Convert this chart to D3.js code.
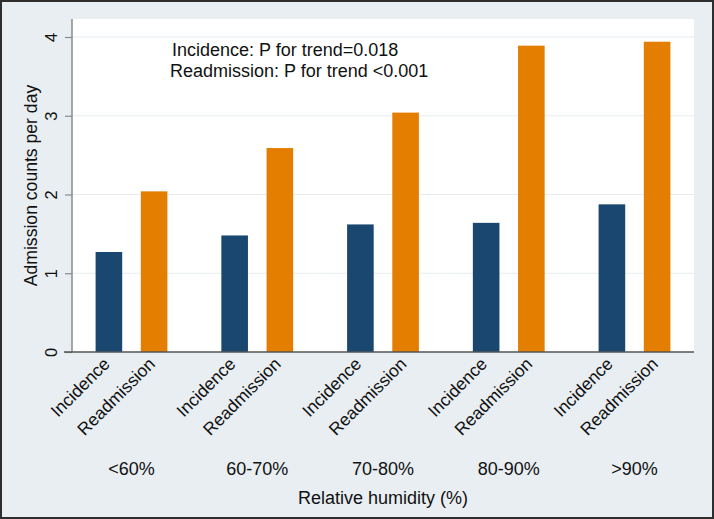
<!DOCTYPE html>
<html><head><meta charset="utf-8">
<script src="https://cdn.jsdelivr.net/npm/d3@7"></script>
<style>
html,body{margin:0;padding:0;background:#fff;}
svg text{font-family:"Liberation Sans",Arial,sans-serif;fill:#111;}
</style></head>
<body>
<svg id="chart" width="714" height="519"></svg>
<script>
const groups = ["<60%", "60-70%", "70-80%", "80-90%", ">90%"];
const seriesNames = ["Incidence", "Readmission"];
const incidence = [1.27, 1.48, 1.62, 1.64, 1.875];
const readmission = [2.04, 2.59, 3.04, 3.89, 3.94];
const yTicks = [0, 1, 2, 3, 4];
const annotations = ["Incidence: P for trend=0.018", "Readmission: P for trend <0.001"];
const yTitle = "Admission counts per day";
const xTitle = "Relative humidity (%)";
const colors = ["#1a476f", "#e37e00"];

const W = 714, H = 519;
const svg = d3.select("#chart");
svg.append("rect").attr("x",1).attr("y",1).attr("width",W-2).attr("height",H-2)
  .attr("fill","#e8eef1").attr("stroke","#2e2e2e").attr("stroke-width",2);

const plot = {l:72, r:694, t:19, b:352};
svg.append("rect").attr("x",plot.l).attr("y",plot.t).attr("width",plot.r-plot.l).attr("height",plot.b-plot.t).attr("fill","#fff");

const y = d3.scaleLinear().domain([0,4]).range([352, 37]);
const gx = d3.scalePoint().domain(groups).range([131.5, 634.5]);
const sx = d3.scalePoint().domain(seriesNames).range([-22.6, 22.6]);
const bw = 26.6;

// gridlines
svg.append("g").selectAll("line").data(yTicks.filter(d=>d>0)).join("line")
  .attr("x1",plot.l).attr("x2",plot.r).attr("y1",d=>y(d)).attr("y2",d=>y(d))
  .attr("stroke","#e6ecef").attr("stroke-width",1.2);

// bars
const data = [];
groups.forEach((g,i)=>{
  data.push({g, s:"Incidence", v:incidence[i]});
  data.push({g, s:"Readmission", v:readmission[i]});
});
svg.append("g").selectAll("rect").data(data).join("rect")
  .attr("x",d=>gx(d.g)+sx(d.s)-bw/2).attr("width",bw)
  .attr("y",d=>y(d.v)).attr("height",d=>y(0)-y(d.v))
  .attr("fill",d=>colors[seriesNames.indexOf(d.s)]);

// y axis
const yAxis = d3.axisLeft(y).tickValues(yTicks).tickSize(7).tickFormat(d3.format("d"));
const ya = svg.append("g").attr("transform",`translate(${plot.l},0)`).call(yAxis);
ya.select(".domain").attr("stroke","#8a8a8a").attr("stroke-width",1.5).attr("d",`M0,${plot.t}V${plot.b}`);
ya.selectAll(".tick line").attr("stroke","#8a8a8a").attr("stroke-width",1.2);
ya.selectAll(".tick text").attr("font-size",16.5).attr("fill","#111")
  .attr("x",0).attr("y",0).attr("dy",null).attr("text-anchor","middle")
  .attr("transform","translate(-15.5,0) rotate(-90)");

// bottom axis line
svg.append("line").attr("x1",64).attr("x2",plot.r).attr("y1",plot.b).attr("y2",plot.b)
  .attr("stroke","#555").attr("stroke-width",1.5);

// category labels
const lab = svg.append("g");
data.forEach(d=>{
  const cx = gx(d.g)+sx(d.s)+2, cy = 365;
  lab.append("text").attr("x",cx).attr("y",cy).attr("text-anchor","end")
    .attr("font-size",17.5).attr("transform",`rotate(-45,${cx},${cy})`).text(d.s);
});
// group labels
svg.append("g").selectAll("text").data(groups).join("text")
  .attr("x",d=>gx(d)).attr("y",474.5).attr("text-anchor","middle")
  .attr("font-size",18).text(d=>d);

// titles
svg.append("text").attr("x",(plot.l+plot.r)/2).attr("y",503.5)
  .attr("text-anchor","middle").attr("font-size",18).text(xTitle);
svg.append("text").attr("transform",`translate(37,${(plot.t+plot.b)/2}) rotate(-90)`)
  .attr("text-anchor","middle").attr("font-size",17.6).text(yTitle);

// annotations
svg.append("g").selectAll("text").data(annotations).join("text")
  .attr("x",(d,i)=>i===0?172:170).attr("y",(d,i)=>55.5+i*21.5)
  .attr("font-size",18).text(d=>d);
</script>
</body></html>
